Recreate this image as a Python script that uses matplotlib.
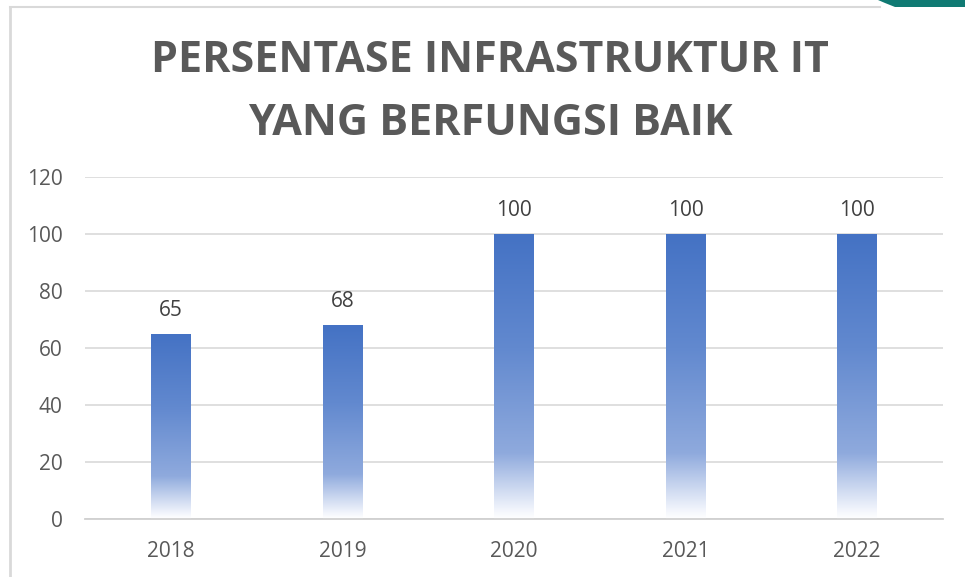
import numpy as np
import matplotlib.pyplot as plt
from matplotlib.colors import LinearSegmentedColormap
from matplotlib.patches import Polygon
from matplotlib.lines import Line2D

years = ['2018', '2019', '2020', '2021', '2022']
persen = [65, 68, 100, 100, 100]
title = 'PERSENTASE INFRASTRUKTUR IT\nYANG BERFUNGSI BAIK'

plt.rcParams['font.family'] = ['Open Sans', 'DejaVu Sans']

fig = plt.figure(figsize=(9.65, 5.77), dpi=100)
ax = fig.add_axes([85 / 965, 1 - 519 / 577, 858 / 965, 342 / 577])

# gradient fill: dark blue on top, pale near the base
grad = LinearSegmentedColormap.from_list(
    'g', [(0.0, '#FFFFFF'), (0.03, '#F2F5FC'), (0.23, '#8FAADD'),
          (0.6, '#6289CF'), (1.0, '#4472C4')])

x = np.arange(len(years))
bars = ax.bar(x, persen, width=0.23, color='none', zorder=2)
g = np.linspace(0, 1, 256).reshape(-1, 1)
for b in bars:
    x0, w, h = b.get_x(), b.get_width(), b.get_height()
    im = ax.imshow(g, cmap=grad, origin='lower', aspect='auto',
                   extent=[x0, x0 + w, 0, h], zorder=2)
    im.set_clip_path(b)

for xi, v in zip(x, persen):
    ax.text(xi, v + 4.5, str(v), ha='center', va='bottom', fontsize=15,
            color='#404040')

ax.set_xlim(-0.5, len(years) - 0.5)
ax.set_ylim(0, 120)
ax.set_yticks(range(0, 121, 20))
ax.set_xticks(x)
ax.set_xticklabels(years)
ax.grid(axis='y', color='#D9D9D9', linewidth=1.2, zorder=0)
ax.set_axisbelow(True)
for s in ['top', 'right', 'left']:
    ax.spines[s].set_visible(False)
ax.spines['bottom'].set_color('#D0D0D0')
ax.spines['bottom'].set_linewidth(1.3)
ax.tick_params(length=0, labelsize=15, labelcolor='#595959')
ax.tick_params(axis='y', pad=16)
ax.tick_params(axis='x', pad=16)

fig.text(490 / 965, 1 - 92 / 577, title, ha='center', va='center',
         fontsize=31, fontweight='bold', color='#595959', linespacing=1.62)

# frame of the chart area and the teal corner shape
fig.add_artist(Line2D([10 / 965, 10 / 965], [0, 1 - 7 / 577],
                      color='#D9D9D9', linewidth=2, transform=fig.transFigure))
fig.add_artist(Line2D([10 / 965, 880 / 965], [1 - 7 / 577, 1 - 7 / 577],
                      color='#D9D9D9', linewidth=1.5, transform=fig.transFigure))
corner = Polygon([(878 / 965, 1), (965 / 965, 1), (965 / 965, 1 - 7 / 577),
                  (895 / 965, 1 - 7 / 577), (885 / 965, 1 - 3 / 577)],
                 closed=True, facecolor='#107A73', edgecolor='none',
                 transform=fig.transFigure)
fig.add_artist(corner)

fig.savefig('out.png', dpi=100)
